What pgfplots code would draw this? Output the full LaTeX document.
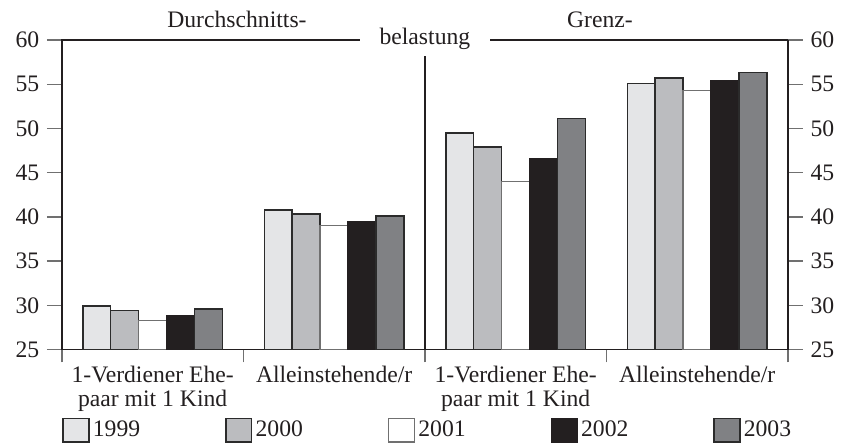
\documentclass[border=0pt]{standalone}
\usepackage{fontspec}
\setmainfont{Liberation Serif}
\usepackage{pgfplots}
\pgfplotsset{compat=1.18}
\definecolor{c99}{HTML}{E4E5E7}
\definecolor{c00}{HTML}{BBBCBF}
\definecolor{c02}{HTML}{231F20}
\definecolor{c03}{HTML}{808184}
\definecolor{edge}{HTML}{2B2B2B}
\definecolor{tickgray}{HTML}{707070}
\pgfplotsset{
  base/.style={scale only axis,width=337.7pt,height=144pt,
    xmin=-0.5,xmax=3.5,ymin=25,ymax=60,
    ytick={25,30,...,60},tick align=outside,major tick length=7pt,
    y tick style={tickgray,line width=0.6pt},
    /pgf/number format/assume math mode=true,
    tick label style={font=\fontsize{11}{11.2}\selectfont,text=c02},
    axis line style={c02,line width=0.6pt}}
}
\begin{document}
\begin{tikzpicture}[font=\fontsize{11}{11.2}\selectfont]
\begin{axis}[base,
  ytick pos=left,xtick pos=bottom,
  xtick={0,1,2,3},
  xticklabels={{1-Verdiener Ehe-\\paar mit 1 Kind},Alleinstehende/r,{1-Verdiener Ehe-\\paar mit 1 Kind},Alleinstehende/r},
  xticklabel style={align=center,anchor=north,yshift=3pt},
  major x tick style={draw=none},
  minor xtick={-0.5,0.5,1.5,2.5,3.5},
  minor tick length=6pt,
  minor x tick style={tickgray,line width=0.6pt},
  ybar=0pt,bar width=0.154,
  every axis plot post/.append style={line width=0.7pt,
    legend image code/.code={\draw[##1] (0pt,-5.5pt) rectangle (12pt,5.5pt);}},
  legend columns=5,
  legend style={at={(axis description cs:0,0)},anchor=north west,yshift=-31pt,
    draw=none,fill=none,inner sep=0pt,
    nodes={inner xsep=1.5pt,text=c02},
    /tikz/every even column/.append style={column sep=38pt}},
  legend cell align=left]
\addplot[fill=c99,draw=edge] coordinates {(0,29.9) (1,40.8) (2,49.5) (3,55.1)};
\addplot[fill=c00,draw=edge] coordinates {(0,29.4) (1,40.3) (2,47.9) (3,55.7)};
\addplot[fill=white,draw=tickgray] coordinates {(0,28.3) (1,39.0) (2,44.0) (3,54.3)};
\addplot[fill=c02,draw=c02] coordinates {(0,28.8) (1,39.4) (2,46.6) (3,55.4)};
\addplot[fill=c03,draw=edge] coordinates {(0,29.6) (1,40.1) (2,51.1) (3,56.3)};
\legend{1999,2000,2001,2002,2003}
\draw[c02,line width=0.6pt] (axis cs:1.5,25) -- (axis cs:1.5,58.2);
\coordinate (bel) at (axis cs:1.5,60);
\coordinate (dur) at (axis cs:0.5,60);
\coordinate (gre) at (axis cs:2.5,60);
\end{axis}
\begin{axis}[base,axis x line=none,axis y line*=right]
\end{axis}
\node[anchor=base,yshift=-2.3pt,fill=white,inner xsep=9pt,inner ysep=1pt,text=c02] at (bel) {belastung};
\node[anchor=base,yshift=6pt,xshift=-3pt,text=c02] at (dur) {Durchschnitts-};
\node[anchor=base,yshift=6pt,xshift=-3pt,text=c02] at (gre) {Grenz-};
\pgfresetboundingbox
\path ([xshift=-28.8pt,yshift=-43pt]current axis.south west) rectangle ([xshift=24.7pt,yshift=18.6pt]current axis.north east);
\end{tikzpicture}
\end{document}
